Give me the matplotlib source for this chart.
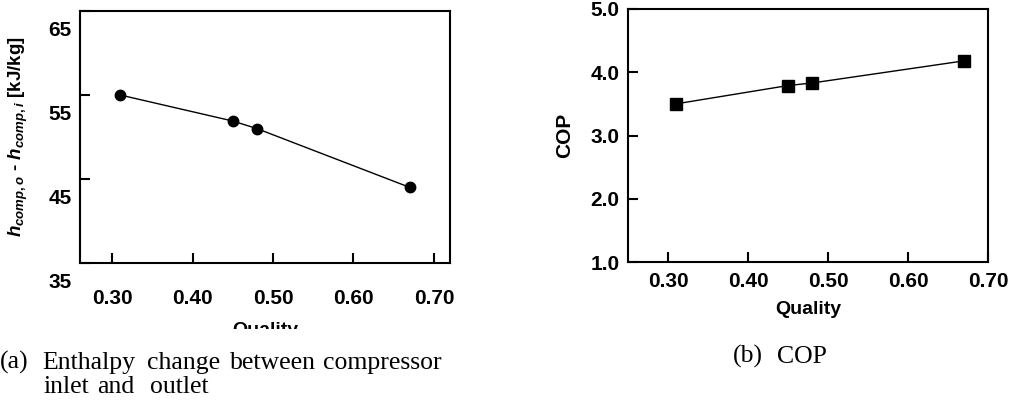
import matplotlib
matplotlib.use("Agg")
import matplotlib.pyplot as plt
import matplotlib.transforms as mtransforms
from matplotlib.patches import Rectangle

# values
quality = [0.31, 0.45, 0.48, 0.67]
dh = [55.0, 51.9, 51.0, 44.0]          # h_comp,o - h_comp,i [kJ/kg]
cop = [3.50, 3.79, 3.83, 4.18]

xticks = [0.30, 0.40, 0.50, 0.60, 0.70]
dh_ticks = [35, 45, 55, 65]
cop_ticks = [1.0, 2.0, 3.0, 4.0, 5.0]

plt.rcParams['font.family'] = ['Liberation Sans', 'DejaVu Sans']
plt.rcParams['font.weight'] = 'bold'
plt.rcParams['axes.labelweight'] = 'bold'
plt.rcParams['mathtext.fontset'] = 'custom'
plt.rcParams['mathtext.it'] = 'Liberation Sans:italic:bold'
plt.rcParams['mathtext.rm'] = 'Liberation Sans:bold'
plt.rcParams['mathtext.bf'] = 'Liberation Sans:bold'

W, H = 1010, 403
fig = plt.figure(figsize=(W / 100, H / 100), dpi=100)


def px(x0, y0, x1, y1):
    # pixel box (top-left origin) -> figure fraction rect
    return [x0 / W, 1 - y1 / H, (x1 - x0) / W, (y1 - y0) / H]


ax1 = fig.add_axes(px(80, 11, 450, 263))
ax2 = fig.add_axes(px(628, 9, 988, 262))

for ax in (ax1, ax2):
    for s in ax.spines.values():
        s.set_linewidth(1.5)
    ax.tick_params(direction='in', length=7, width=1.5, labelsize=15,
                   top=False, right=False)

# (a) enthalpy change
ax1.plot(quality, dh, '-', color='black', lw=1.0,
         marker='o', markersize=7.5, markerfacecolor='black')
ax1.set_xlim(0.26, 0.72)
ax1.set_ylim(35, 65)
ax1.set_xticks(xticks)
ax1.set_xticklabels(['%.2f' % v for v in xticks])
ax1.set_yticks(dh_ticks)
ax1.tick_params(axis='x', pad=19)
ax1.tick_params(axis='y', pad=6)
ax1.set_ylabel(r'$h_{comp,o}$ - $h_{comp,i}$ [kJ/kg]', fontsize=13.5)
ax1.yaxis.set_label_coords(-0.135, 0.5)
ax1.set_xlabel('Quality', fontsize=14)
ax1.xaxis.set_label_coords(0.5, -0.235)
# labels in the scan sit below their tick marks
shift = mtransforms.ScaledTranslation(0, -0.175, fig.dpi_scale_trans)
for lbl in ax1.get_yticklabels():
    lbl.set_transform(lbl.get_transform() + shift)

# (b) COP
ax2.plot(quality, cop, '-', color='black', lw=1.0,
         marker='s', markersize=8, markerfacecolor='black')
ax2.set_xlim(0.25, 0.70)
ax2.set_ylim(1.0, 5.0)
ax2.set_xticks(xticks)
ax2.set_xticklabels(['%.2f' % v for v in xticks])
ax2.set_yticks(cop_ticks)
ax2.set_yticklabels(['%.1f' % v for v in cop_ticks])
ax2.tick_params(axis='x', pad=7)
ax2.tick_params(axis='y', pad=6)
ax2.set_ylabel('COP', fontsize=15)
ax2.yaxis.set_label_coords(-0.15, 0.5)
ax2.set_xlabel('Quality', fontsize=14)
ax2.xaxis.set_label_coords(0.5, -0.155)

# the left "Quality" is cut off in the scan
fig.patches.append(Rectangle((0, 0), 0.5, (H - 329) / H, transform=fig.transFigure,
                             facecolor='white', edgecolor='none', zorder=5))

cap = dict(family=['Liberation Serif'], fontsize=18.5, fontweight='normal',
           va='baseline', ha='left', zorder=10)
line1 = [('(a)', 0), ('Enthalpy', 42), ('change', 147), ('between', 230),
         ('compressor', 323)]
line2 = [('inlet', 43), ('and', 97), ('outlet', 150)]
for word, x in line1:
    fig.text(x / W, 1 - 369 / H, word, **cap)
for word, x in line2:
    fig.text(x / W, 1 - 393 / H, word, **cap)
fig.text(733 / W, 1 - 363 / H, '(b)', **cap)
fig.text(777 / W, 1 - 363 / H, 'COP', **cap)

fig.savefig('out.png', dpi=100)
